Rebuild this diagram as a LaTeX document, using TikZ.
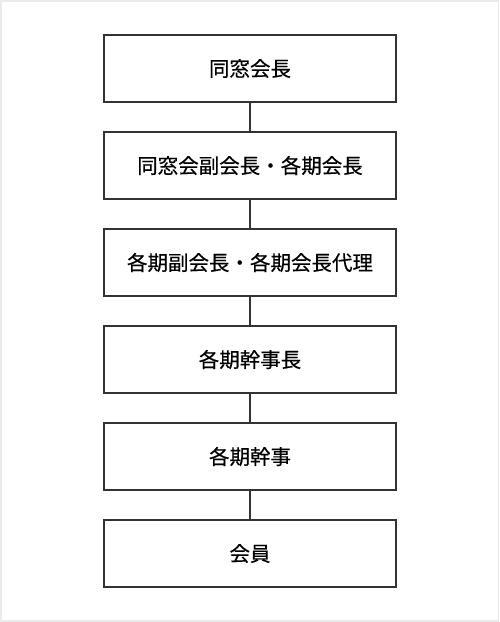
\documentclass[tikz,border=0pt]{standalone}
\usepackage{fontspec}
\newfontfamily\jpfont{Noto Sans CJK JP}[FakeBold=0.4]
\definecolor{edge}{HTML}{333333}
\definecolor{frame}{HTML}{EBEBEB}
\begin{document}
\begin{tikzpicture}[x=1pt,y=-1pt,
  rankbox/.style={draw=edge,line width=1.8pt,minimum width=292pt,minimum height=67pt,inner sep=0pt,font=\jpfont\fontsize{20.5pt}{24pt}\selectfont,text=black},
  link/.style={draw=edge,line width=1.8pt}]
\useasboundingbox (0,0) rectangle (500,622);
\draw[frame,line width=1.5pt] (0.75,0.75) rectangle (498.5,621);
\node[rankbox] (a) at (250,68.5) {同窓会長};
\node[rankbox] (b) at (250,165.5) {同窓会副会長・各期会長};
\node[rankbox] (c) at (250,262.5) {各期副会長・各期会長代理};
\node[rankbox] (d) at (250,359.5) {各期幹事長};
\node[rankbox] (e) at (250,456.5) {各期幹事};
\node[rankbox] (f) at (250,553.5) {会員};
\draw[link] (a) -- (b);
\draw[link] (b) -- (c);
\draw[link] (c) -- (d);
\draw[link] (d) -- (e);
\draw[link] (e) -- (f);
\end{tikzpicture}
\end{document}
